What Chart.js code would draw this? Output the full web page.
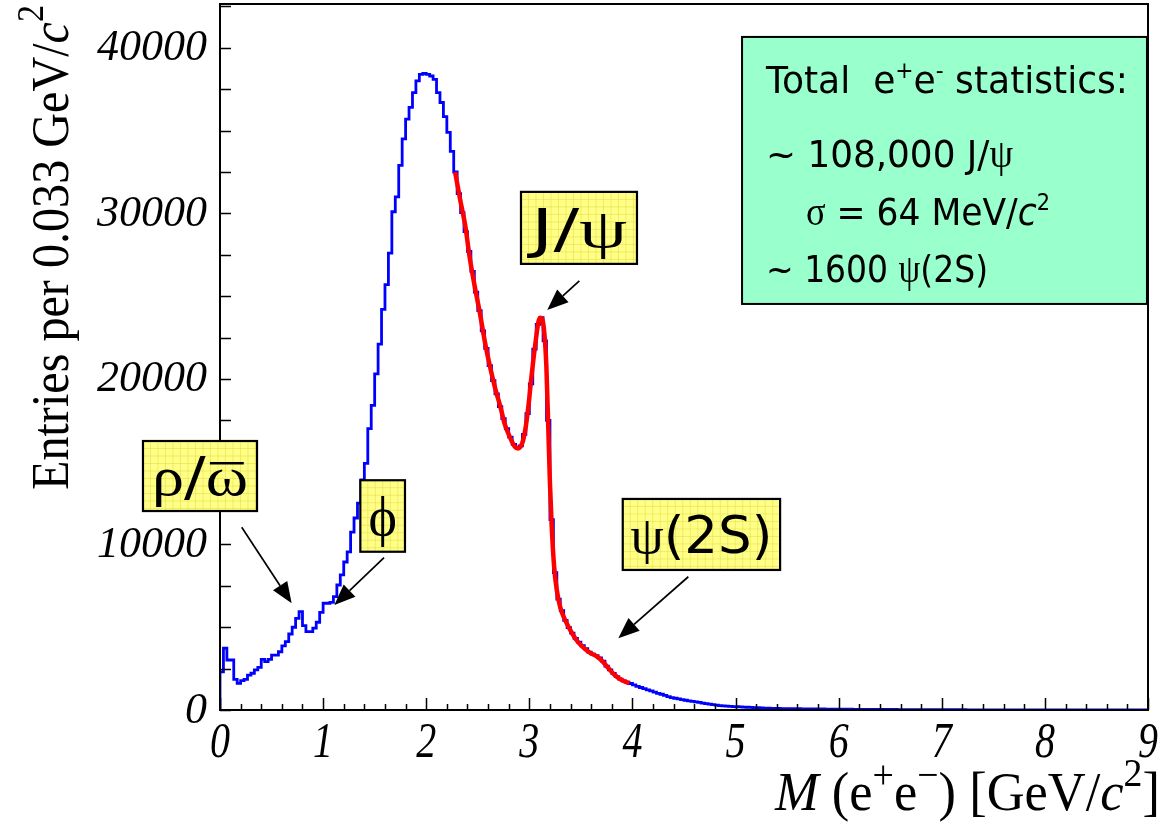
<!DOCTYPE html>
<html>
<head>
<meta charset="utf-8">
<title>e+e- invariant mass</title>
<script src="https://cdn.jsdelivr.net/npm/chart.js@4.4.1/dist/chart.umd.min.js"></script>
<style>
  html, body { margin: 0; padding: 0; background: #fff; }
  #wrap { width: 1167px; height: 826px; position: relative; }
</style>
</head>
<body>
<div id="wrap"><canvas id="massChart"></canvas></div>
<script>
// Histogram: entries per bin, bins of 1/30 GeV starting at 0
const binWidth = 1 / 30;
const counts = [
  2300, 3730, 3020, 3020, 1850, 1610, 1770, 1850, 2110, 2220,
  2420, 2580, 3060, 2920, 3060, 3320, 3320, 3520, 3870, 4130,
  4590, 5000, 5540, 5940, 5100, 4730, 4730, 4950, 5300, 5900,
  6450, 6450, 6500, 6850, 7550, 8160, 8940, 9550, 10750, 11600,
  12500, 13900, 14900, 17000, 18400, 20300, 22100, 24200, 25700, 27600,
  30100, 31000, 32900, 34500, 35700, 36400, 37300, 38000, 38400, 38450,
  38400, 38300, 38100, 37300, 36700, 35850, 34900, 33750, 32500, 31200,
  30050, 28900, 27700, 26500, 25250, 24130, 22900, 21850, 20800, 19900,
  19100, 18330, 17600, 17000, 16480, 16050, 15830, 15950, 16650, 17900,
  19700, 21800, 23300, 23700, 22300, 17500, 11500, 8300, 6700, 6000,
  5420, 4980, 4650, 4330, 4100, 3880, 3700, 3500, 3380, 3280,
  3150, 2950, 2650, 2430, 2210, 2020, 1860, 1760, 1680, 1600,
  1520, 1430, 1360, 1290, 1220, 1150, 1080, 1010, 950, 880,
  810, 750, 710, 670, 630, 590, 550, 520, 490, 455,
  420, 390, 360, 320, 290, 270, 250, 235, 220, 205,
  195, 185, 175, 165, 155, 145, 135, 125, 115, 108,
  100, 95, 92, 88, 85, 82, 80, 78, 75, 72,
  70, 68, 66, 64, 62, 60, 58, 56, 54, 52,
  50, 48, 46, 45, 43, 42, 40, 38, 37, 36,
  35, 34, 33, 32, 31, 30, 29, 28, 27, 26,
  25, 24, 23, 22, 21, 20, 20, 19, 18, 18,
  17, 16, 16, 15, 15, 14, 14, 13, 13, 12,
  12, 11, 11, 10, 10, 10, 9, 9, 9, 8,
  8, 8, 7, 7, 7, 7, 6, 6, 6, 6,
  5, 5, 5, 5, 5, 4, 4, 4, 4, 4,
  4, 3, 3, 3, 3, 3, 3, 3, 3, 2,
  2, 2, 2, 2, 2, 2, 2, 2, 1, 1
];

// Fit curve (red)
const fitMass = [2.28, 2.33, 2.38, 2.42, 2.47, 2.52, 2.57, 2.62, 2.67, 2.72,
  2.76, 2.81, 2.86, 2.89, 2.93, 2.96, 2.99, 3.02, 3.06, 3.09,
  3.11, 3.14, 3.165, 3.185, 3.2, 3.217, 3.24, 3.265, 3.3, 3.35,
  3.4, 3.46, 3.52, 3.59, 3.65, 3.7, 3.77, 3.83, 3.9, 3.97];
const fitCounts = [32500, 30800, 29200, 27400, 25600, 24000, 22200, 20700, 19400, 18300,
  17300, 16500, 15900, 15800, 16100, 16900, 18300, 20100, 22200, 23500,
  23700, 23100, 20800, 16800, 13700, 11100, 8700, 7300, 6200, 5400,
  4800, 4200, 3800, 3450, 3250, 3000, 2500, 2100, 1800, 1620];

const xTickLabels = [0, 1, 2, 3, 4, 5, 6, 7, 8, 9];
const yTickLabels = [0, 10000, 20000, 30000, 40000];

// step histogram points at left bin edges
const histPoints = [{ x: 0, y: 0 }];
counts.forEach((c, i) => histPoints.push({ x: i * binWidth, y: c }));
histPoints.push({ x: counts.length * binWidth, y: counts[counts.length - 1] });

const fitPoints = fitMass.map((m, i) => ({ x: m, y: fitCounts[i] }));

// Annotations in data coordinates (GeV, entries)
const labelBoxes = [
  { parts: [{ t: 'J/', f: 'DejaVu Sans' }, { t: 'ψ', f: 'Liberation Serif' }],
    x1: 2.919, x2: 4.044, y1: 31300, y2: 26950, size: 54, width: 96,
    from: [3.485, 25920], to: [3.174, 24170] },
  { parts: [{ t: 'ψ', f: 'Liberation Serif' }, { t: '(2S)', f: 'DejaVu Sans' }],
    x1: 3.906, x2: 5.432, y1: 12750, y2: 8460, size: 52, width: 142,
    from: [4.542, 8050], to: [3.863, 4330] },
  { parts: [{ t: 'ϕ', f: 'Liberation Serif' }],
    x1: 1.361, x2: 1.794, y1: 13880, y2: 9560, size: 54, width: 0,
    from: [1.591, 9200], to: [1.109, 6340] },
  { parts: [{ t: 'ρ', f: 'Liberation Serif' }, { t: '/', f: 'DejaVu Sans' }, { t: 'ω', f: 'Liberation Serif', bar: true }],
    x1: -0.747, x2: 0.359, y1: 16250, y2: 12020, size: 54, width: 96,
    from: [0.2105, 11040], to: [0.695, 6450] }
];

function drawRich(ctx, parts, x, y, targetWidth, sy) {
  let w = 0;
  parts.forEach(p => { ctx.font = p.font; p.w = ctx.measureText(p.t).width; w += p.w; });
  const sx = targetWidth ? targetWidth / w : 1;
  ctx.save();
  ctx.translate(x, y);
  ctx.scale(sx, sy || 1);
  ctx.textAlign = 'left';
  ctx.textBaseline = 'alphabetic';
  let cx = 0;
  parts.forEach(p => {
    ctx.font = p.font;
    ctx.fillText(p.t, cx, p.dy || 0);
    if (p.bar) {
      ctx.fillRect(cx + p.w * 0.1, -p.barY, p.w * 0.8, 2.5);
    }
    cx += p.w;
  });
  ctx.restore();
  return w * sx;
}

function arrow(ctx, x1, y1, x2, y2) {
  const a = Math.atan2(y2 - y1, x2 - x1);
  const len = 21, half = 8.5;
  const bx = x2 - len * Math.cos(a), by = y2 - len * Math.sin(a);
  ctx.strokeStyle = '#000';
  ctx.lineWidth = 1.7;
  ctx.beginPath();
  ctx.moveTo(x1, y1);
  ctx.lineTo(bx, by);
  ctx.stroke();
  ctx.fillStyle = '#000';
  ctx.beginPath();
  ctx.moveTo(x2, y2);
  ctx.lineTo(bx + half * Math.sin(a), by - half * Math.cos(a));
  ctx.lineTo(bx - half * Math.sin(a), by + half * Math.cos(a));
  ctx.closePath();
  ctx.fill();
}

const decorations = {
  id: 'decorations',
  afterDraw(chart) {
    const ctx = chart.ctx;
    const area = chart.chartArea;
    const xs = chart.scales.x, ys = chart.scales.y;
    ctx.save();

    // frame
    ctx.strokeStyle = '#000';
    ctx.lineWidth = 2;
    ctx.strokeRect(area.left, area.top, area.right - area.left, area.bottom - area.top);

    // ticks, pointing inward
    ctx.lineWidth = 1.5;
    ctx.beginPath();
    for (let v = 0; v <= ys.max; v += 2500) {
      const py = Math.round(ys.getPixelForValue(v)) + 0.5;
      ctx.moveTo(area.left, py);
      ctx.lineTo(area.left + 11, py);
    }
    for (let k = 0; k <= 45; k++) {
      const px = Math.round(xs.getPixelForValue(k * 0.2)) + 0.5;
      ctx.moveTo(px, area.bottom);
      ctx.lineTo(px, area.bottom - (k % 5 === 0 ? 12 : 6));
    }
    ctx.stroke();

    // tick labels
    ctx.fillStyle = '#000';
    ctx.textAlign = 'right';
    ctx.textBaseline = 'middle';
    ctx.font = 'italic 44px "Liberation Serif"';
    yTickLabels.forEach(v => {
      ctx.fillText(String(v), area.left - 13, ys.getPixelForValue(v) + 1);
    });
    xTickLabels.forEach(v => {
      ctx.save();
      ctx.translate(xs.getPixelForValue(v), 757);
      ctx.scale(0.8, 1);
      ctx.textAlign = 'center';
      ctx.textBaseline = 'alphabetic';
      ctx.font = 'italic 50px "Liberation Serif"';
      ctx.fillText(String(v), 0, 0);
      ctx.restore();
    });

    // x axis title
    const tf = '50px "Liberation Serif"', ti = 'italic 50px "Liberation Serif"', ts = '36px "Liberation Serif"';
    drawRich(ctx, [
      { t: 'M', font: ti }, { t: ' (e', font: tf }, { t: '+', font: ts, dy: -20 },
      { t: 'e', font: tf }, { t: '\u2212', font: ts, dy: -20 }, { t: ') [GeV/', font: tf },
      { t: 'c', font: ti }, { t: '2', font: ts, dy: -22 }, { t: ']', font: tf }
    ], 775, 810, 385, 1.1);

    // y axis title, rotated
    ctx.save();
    ctx.translate(68, 490);
    ctx.rotate(-Math.PI / 2);
    drawRich(ctx, [
      { t: 'Entries per 0.033 GeV/', font: '48px "Liberation Serif"' },
      { t: 'c', font: 'italic 48px "Liberation Serif"' },
      { t: '2', font: '34px "Liberation Serif"', dy: -22 }
    ], 0, 0, 485, 1.12);
    ctx.restore();

    // yellow label boxes with arrows
    labelBoxes.forEach(b => {
      const l = xs.getPixelForValue(b.x1), r = xs.getPixelForValue(b.x2);
      const t = ys.getPixelForValue(b.y1), btm = ys.getPixelForValue(b.y2);
      ctx.fillStyle = '#ffff88';
      ctx.fillRect(l, t, r - l, btm - t);
      ctx.strokeStyle = 'rgba(230, 220, 70, 0.55)';
      ctx.lineWidth = 1;
      ctx.beginPath();
      for (let gx = l + 7.5; gx < r; gx += 7.5) { ctx.moveTo(gx, t); ctx.lineTo(gx, btm); }
      for (let gy = t + 7.5; gy < btm; gy += 7.5) { ctx.moveTo(l, gy); ctx.lineTo(r, gy); }
      ctx.stroke();
      ctx.strokeStyle = '#000';
      ctx.lineWidth = 2.2;
      ctx.strokeRect(l, t, r - l, btm - t);

      ctx.fillStyle = '#000';
      const parts = b.parts.map(p => ({ t: p.t, font: b.size + 'px "' + p.f + '"', bar: p.bar, barY: b.size * 0.62 }));
      let w = 0;
      parts.forEach(p => { ctx.font = p.font; w += ctx.measureText(p.t).width; });
      const tw = b.width || w;
      drawRich(ctx, parts, (l + r) / 2 - tw / 2, (t + btm) / 2 + b.size * 0.36, b.width, 1);

      arrow(ctx, xs.getPixelForValue(b.from[0]), ys.getPixelForValue(b.from[1]),
        xs.getPixelForValue(b.to[0]), ys.getPixelForValue(b.to[1]));
    });

    // statistics box
    const sl = xs.getPixelForValue(5.063), sr = xs.getPixelForValue(8.99);
    const st = ys.getPixelForValue(40660), sb = ys.getPixelForValue(24530);
    ctx.fillStyle = '#99ffcc';
    ctx.fillRect(sl, st, sr - sl, sb - st);
    ctx.strokeStyle = '#000';
    ctx.lineWidth = 2;
    ctx.strokeRect(sl, st, sr - sl, sb - st);
    ctx.fillStyle = '#000';
    const sf = '38px "DejaVu Sans"', ss = '23px "DejaVu Sans"', sg = '40px "Liberation Serif"';
    drawRich(ctx, [
      { t: 'Total  e', font: sf }, { t: '+', font: ss, dy: -15 }, { t: 'e', font: sf },
      { t: '-', font: ss, dy: -15 }, { t: ' statistics:', font: sf }
    ], 766, 93, 362, 1);
    drawRich(ctx, [{ t: '~ 108,000 J/', font: sf }, { t: 'ψ', font: sg }], 766, 167, 247, 1);
    drawRich(ctx, [
      { t: 'σ', font: sg }, { t: ' = 64 MeV/', font: sf },
      { t: 'c', font: 'italic 38px "DejaVu Sans"' }, { t: '2', font: ss, dy: -15 }
    ], 806, 225, 244, 1);
    drawRich(ctx, [{ t: '~ 1600 ', font: sf }, { t: 'ψ', font: sg }, { t: '(2S)', font: sf }], 766, 282, 222, 1);

    ctx.restore();
  }
};

const ctx = document.getElementById('massChart').getContext('2d');
new Chart(ctx, {
  type: 'line',
  data: {
    datasets: [{
      label: 'Fit',
      data: fitPoints,
      borderColor: '#ff0000',
      borderWidth: 4.5,
      pointRadius: 0,
      cubicInterpolationMode: 'monotone',
      order: 0
    }, {
      label: 'M(e+e-)',
      data: histPoints,
      borderColor: '#0000ff',
      borderWidth: 2.8,
      pointRadius: 0,
      stepped: 'before',
      order: 1
    }]
  },
  options: {
    responsive: true,
    maintainAspectRatio: false,
    animation: false,
    parsing: false,
    layout: { padding: { left: 220, top: 4, right: 19, bottom: 116 } },
    scales: {
      x: { type: 'linear', min: 0, max: 9, display: false },
      y: { type: 'linear', min: 0, max: 42650, display: false }
    },
    plugins: {
      legend: { display: false },
      tooltip: { enabled: false }
    }
  },
  plugins: [decorations]
});
</script>
</body>
</html>
